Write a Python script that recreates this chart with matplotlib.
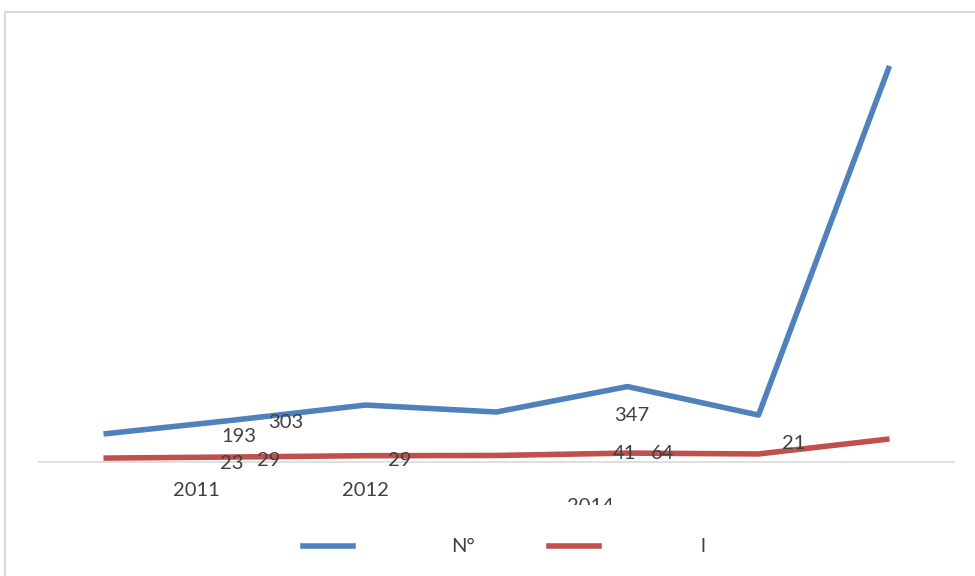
import matplotlib
matplotlib.use('Agg')
import matplotlib.pyplot as plt
from matplotlib.lines import Line2D
from matplotlib.patches import Rectangle

plt.rcParams['font.family'] = ['Lato', 'DejaVu Sans']

# series values, one point per category slot
slots = [0, 1, 2, 3, 4, 5, 6]
n_values = [129, 193, 262, 230, 347, 216, 1822]
l_values = [18, 23, 29, 30, 41, 37, 106]

# data labels as they sit on the chart: (text, slot, value)
n_labels = [('193', 1.03, 115), ('303', 1.39, 180), ('347', 4.03, 215)]
l_labels = [('23', 0.98, -5), ('29', 1.26, 5), ('29', 2.26, 5),
            ('41', 3.98, 38), ('64', 4.265, 38), ('21', 5.27, 87)]

# category labels
year_labels = [('2011', 0.71), ('2012', 2.0), ('2014', 3.72)]

legend_names = ['N°', 'l']

blue = '#4f81bd'
red = '#c0504d'
text_col = '#404040'
grid_col = '#d9d9d9'
fs = 14.5

fig = plt.figure(figsize=(9.75, 5.76), dpi=100)
W, H = 975, 576

# chart area border
fig.add_artist(Rectangle((5 / W, -0.1), 1.2, (576 - 12) / H + 0.1,
                         transform=fig.transFigure, fill=False,
                         edgecolor=grid_col, linewidth=1.5))

ax = fig.add_axes([38 / W, (H - 505) / H, (955 - 38) / W, (505 - 20) / H])
ax.set_xlim(-0.5, 6.5)
ax.set_ylim(-(505 - 462) * 4.6, (462 - 20) * 4.6)
ax.axis('off')

ax.axhline(0, color=grid_col, linewidth=1.2, zorder=1)
ax.plot(slots, n_values, color=blue, linewidth=4, solid_capstyle='butt', zorder=3)
ax.plot(slots, l_values, color=red, linewidth=4, solid_capstyle='butt', zorder=3)

for txt, x, y in n_labels + l_labels:
    ax.text(x, y, txt, ha='center', va='center', fontsize=fs, color=text_col, zorder=4)

for txt, x in year_labels:
    yy = -(491 - 462) * 4.6 if txt != '2014' else -(506 - 462) * 4.6
    ax.text(x, yy, txt, ha='center', va='center', fontsize=fs, color=text_col, clip_on=True)

# legend
ly = (H - 546) / H
fig.add_artist(Line2D([303 / W, 353 / W], [ly, ly], color=blue, linewidth=4,
                      transform=fig.transFigure))
fig.add_artist(Line2D([549 / W, 599 / W], [ly, ly], color=red, linewidth=4,
                      transform=fig.transFigure))
fig.text(463 / W, ly, legend_names[0], ha='center', va='center', fontsize=fs, color=text_col)
fig.text(703 / W, ly, legend_names[1], ha='center', va='center', fontsize=fs, color=text_col)

fig.savefig('out.png', dpi=100)
